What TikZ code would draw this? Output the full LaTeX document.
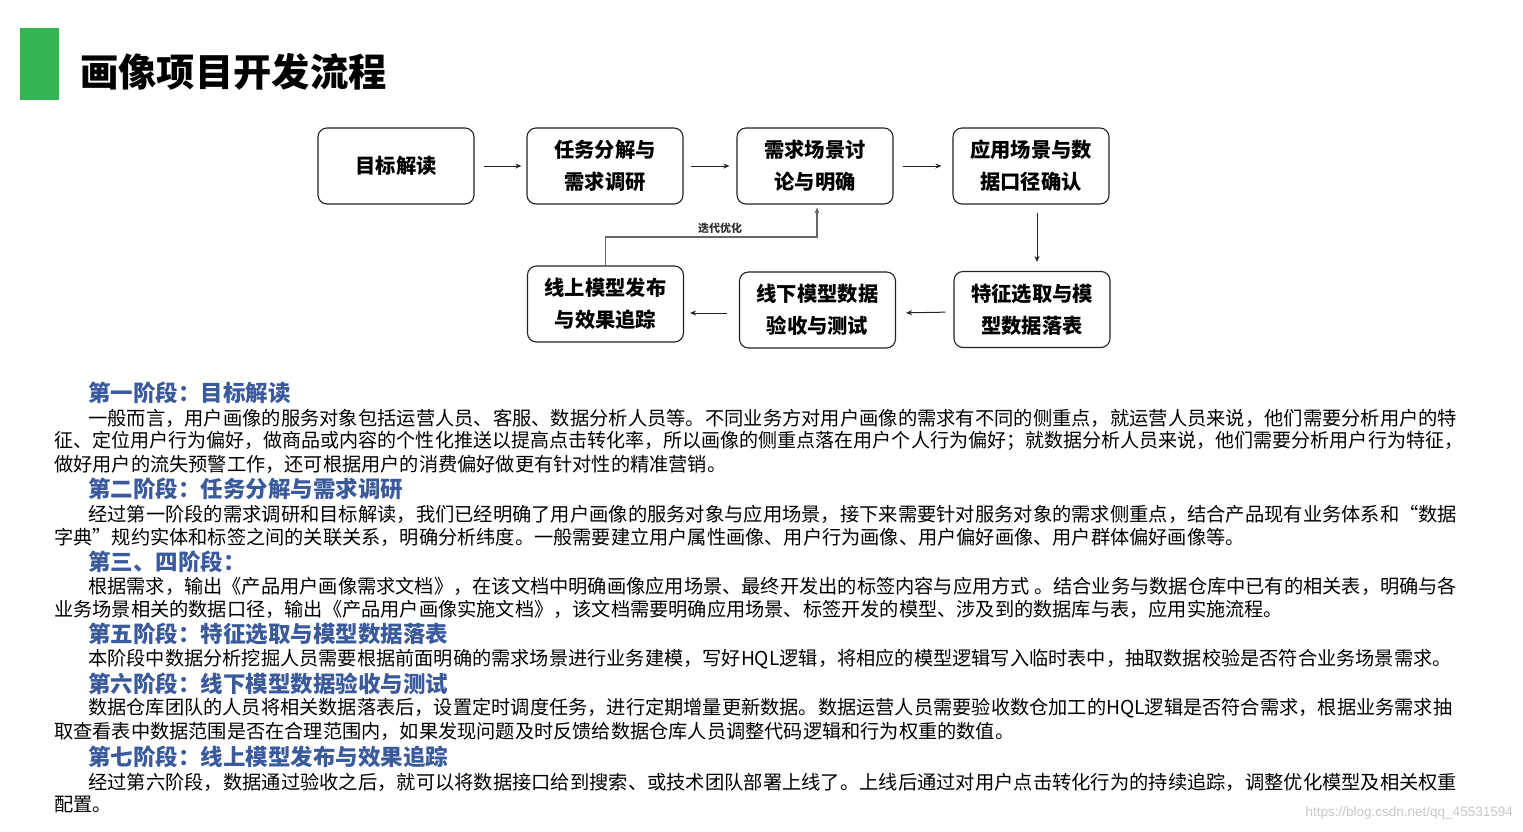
\documentclass[tikz,border=0pt]{standalone}
\usepackage{fontspec}
\setmainfont{Noto Sans CJK SC}
\newfontfamily\wmfont{Liberation Sans}
\usetikzlibrary{arrows.meta}
\definecolor{gbar}{HTML}{34B554}
\definecolor{hblue}{HTML}{3A5A9C}
\definecolor{boxline}{HTML}{222222}
\newcommand{\fitw}[2]{\resizebox{#1}{\height}{#2}}
\begin{document}
\begin{tikzpicture}[x=1pt,y=-1pt,
  stepbox/.style={draw=boxline,line width=1.1pt,rounded corners=9pt,minimum width=156pt,minimum height=76pt,
    align=center,inner sep=0pt,font=\fontsize{20.3}{32}\selectfont\bfseries},
  flow/.style={draw=boxline,line width=1pt,-{Stealth[length=6pt,width=5pt]}},
  fbline/.style={draw=black!60,line width=1.5pt,-{Stealth[length=6pt,width=5pt]}},
  head/.style={anchor=west,inner sep=0pt,text=hblue,font=\fontsize{22.5}{26}\selectfont\bfseries},
  body/.style={anchor=west,inner sep=0pt,text=black,font=\fontsize{19.2}{23}\selectfont},
]
\useasboundingbox (0,0) rectangle (1523,831);
% title
\fill[gbar] (20,28) rectangle (59,100);
\node[anchor=west,inner sep=0pt,font=\fontsize{38.3}{40}\selectfont\bfseries] (title) at (80,72) {画像项目开发流程};
% boxes
\node[stepbox] (b1) at (396,166) {目标解读};
\node[stepbox] (b2) at (605,166) {任务分解与\\需求调研};
\node[stepbox] (b3) at (815,166) {需求场景讨\\论与明确};
\node[stepbox] (b4) at (1031,166) {应用场景与数\\据口径确认};
\node[stepbox] (b5) at (1032,309.5) {特征选取与模\\型数据落表};
\node[stepbox] (b6) at (817.5,310) {线下模型数据\\验收与测试};
\node[stepbox] (b7) at (605.5,304) {线上模型发布\\与效果追踪};
% arrows
\draw[flow,shorten <=9pt,shorten >=5pt] (b1.east) -- (b2.west);
\draw[flow,shorten <=7pt,shorten >=7pt] (b2.east) -- (b3.west);
\draw[flow,shorten <=9pt,shorten >=11pt] (b3.east) -- (b4.west);
\draw[flow,shorten <=8pt,shorten >=9pt] ([xshift=6pt]b4.south) -- ([xshift=5pt]b5.north);
\draw[flow,shorten <=8pt,shorten >=10pt] ([yshift=-2.5pt]b5.west) -- ([yshift=-3pt]b6.east);
\draw[flow,shorten <=12pt,shorten >=6pt] ([yshift=-3pt]b6.west) -- ([yshift=-3pt]b6.west -| b7.east);
% feedback loop
\coordinate (fb) at (712,237);
\draw[fbline,shorten >=3pt] (b7.north) |- (fb) -| ([xshift=2pt]b3.south);
\node[inner sep=0pt,font=\fontsize{11}{12}\selectfont\bfseries,text=black!80] (fbl) at (720,228) {迭代优化};
% text
\node[head] (h1) at (88,393) {第一阶段：目标解读};
\node[body] (t11) at (88,418) {\fitw{1369pt}{一般而言，用户画像的服务对象包括运营人员、客服、数据分析人员等。不同业务方对用户画像的需求有不同的侧重点，就运营人员来说，他们需要分析用户的特}};
\node[body] (t12) at (54,441) {\fitw{1409pt}{征、定位用户行为偏好，做商品或内容的个性化推送以提高点击转化率，所以画像的侧重点落在用户个人行为偏好；就数据分析人员来说，他们需要分析用户行为特征，}};
\node[body] (t13) at (54,464) {做好用户的流失预警工作，还可根据用户的消费偏好做更有针对性的精准营销。};
\node[head] (h2) at (88,489) {第二阶段：任务分解与需求调研};
\node[body] (t21) at (88,514) {\fitw{1369pt}{经过第一阶段的需求调研和目标解读，我们已经明确了用户画像的服务对象与应用场景，接下来需要针对服务对象的需求侧重点，结合产品现有业务体系和“数据}};
\node[body] (t22) at (54,537) {字典”规约实体和标签之间的关联关系，明确分析纬度。一般需要建立用户属性画像、用户行为画像、用户偏好画像、用户群体偏好画像等。};
\node[head] (h3) at (88,562) {第三、四阶段：};
\node[body] (t31) at (88,586) {\fitw{1369pt}{根据需求，输出《产品用户画像需求文档》，在该文档中明确画像应用场景、最终开发出的标签内容与应用方式 。结合业务与数据仓库中已有的相关表，明确与各}};
\node[body] (t32) at (54,609) {业务场景相关的数据口径，输出《产品用户画像实施文档》，该文档需要明确应用场景、标签开发的模型、涉及到的数据库与表，应用实施流程。};
\node[head] (h5) at (88,634) {第五阶段：特征选取与模型数据落表};
\node[body] (t51) at (88,659) {本阶段中数据分析挖掘人员需要根据前面明确的需求场景进行业务建模，写好HQL逻辑，将相应的模型逻辑写入临时表中，抽取数据校验是否符合业务场景需求。};
\node[head] (h6) at (88,684) {第六阶段：线下模型数据验收与测试};
\node[body] (t61) at (88,708) {\fitw{1364pt}{数据仓库团队的人员将相关数据落表后，设置定时调度任务，进行定期增量更新数据。数据运营人员需要验收数仓加工的HQL逻辑是否符合需求，根据业务需求抽}};
\node[body] (t62) at (54,731) {取查看表中数据范围是否在合理范围内，如果发现问题及时反馈给数据仓库人员调整代码逻辑和行为权重的数值。};
\node[head] (h7) at (88,757) {第七阶段：线上模型发布与效果追踪};
\node[body] (t71) at (88,782) {\fitw{1369pt}{经过第六阶段，数据通过验收之后，就可以将数据接口给到搜索、或技术团队部署上线了。上线后通过对用户点击转化行为的持续追踪，调整优化模型及相关权重}};
\node[body] (t72) at (54,805) {配置。};
% watermark
\node[anchor=east,inner sep=0pt,text=black!22,font=\wmfont\fontsize{13.5}{14}\selectfont] (wm) at (1513,813) {https://blog.csdn.net/qq\_45531594};
\end{tikzpicture}
\end{document}
